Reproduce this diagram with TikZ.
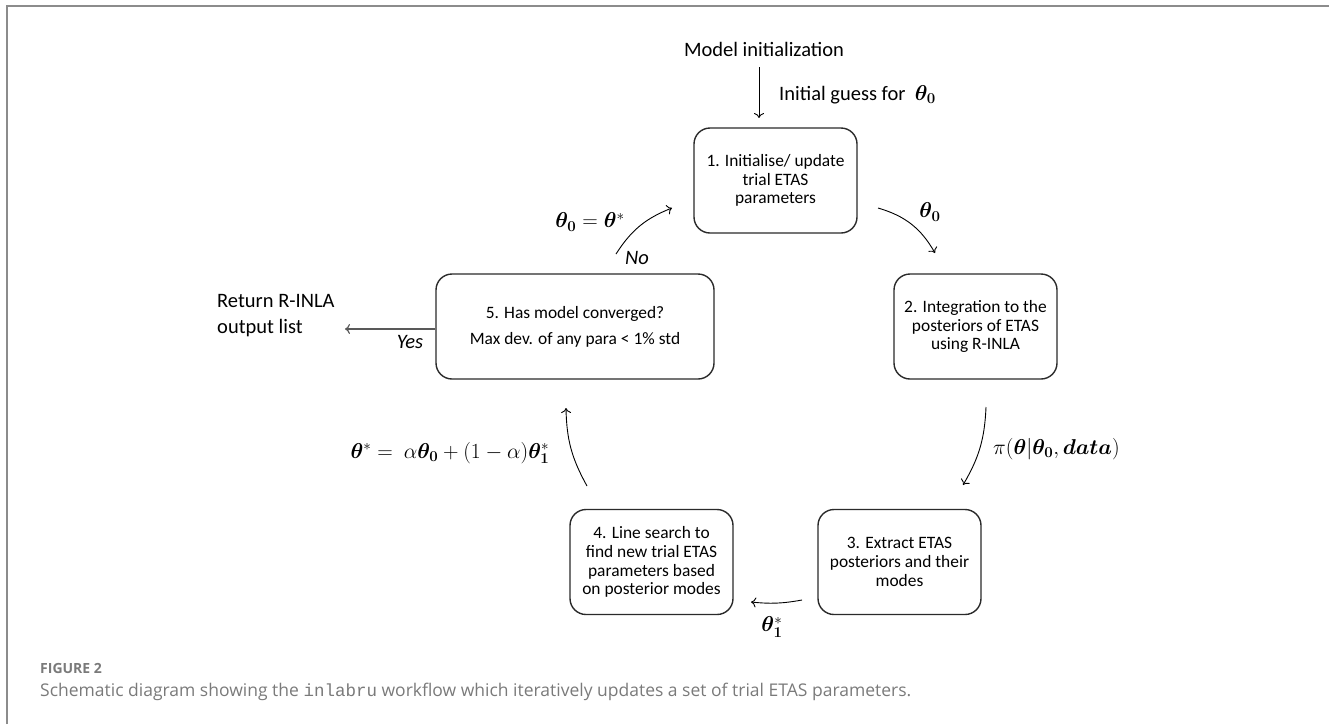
\documentclass[tikz,border=0pt]{standalone}
\usepackage{fix-cm}
\usepackage{amsmath}
\usepackage{bm}
\usepackage{fontspec}
\setmainfont{Carlito}
\newfontfamily\capfont{Open Sans}
\newfontfamily\capmono{Liberation Mono}
\usetikzlibrary{arrows.meta}
\definecolor{framegray}{HTML}{8C8C8C}
\definecolor{capgray}{HTML}{7A7A7A}
\definecolor{boxline}{HTML}{2A2A2A}
\begin{document}
\begin{tikzpicture}[x=1pt,y=-1pt,
  stepbox/.style={draw=boxline, line width=1.4pt, rounded corners=16pt, align=center,
    font=\fontsize{17.4}{18.8}\selectfont, inner sep=0pt, minimum width=163pt, minimum height=105pt},
  flow/.style={-{To[length=5pt,width=10pt]}, line width=0.9pt},
  lbl/.style={font=\fontsize{20.5}{26}\selectfont, inner sep=0pt},
  mlbl/.style={font=\fontsize{21.5}{26}\selectfont, inner sep=0pt}]
\useasboundingbox (0,0) rectangle (1329,724);
\draw[framegray, line width=2pt] (7,724) -- (7,6) -- (1329,6);

% boxes
\node[stepbox] (b1) at (775.5,180.5) {1. Initialise/ update\\trial ETAS\\parameters};
\node[stepbox] (b2) at (975.5,326.5) {2. Integration to the\\posteriors of ETAS\\using R-INLA};
\node[stepbox] (b3) at (899.5,562) {3. Extract ETAS\\posteriors and their\\modes};
\node[stepbox] (b4) at (651.5,562) {4. Line search to\\find new trial ETAS\\parameters based\\on posterior modes};
\node[stepbox, minimum width=278pt] (b5) at (575,326.5) {5. Has model converged?\\[7pt]Max dev. of any para {<} 1\% std};

% texts
\node[lbl] (init) at (764,49) {Model initialization};
\node[lbl, anchor=west] (guess) at (779,95) {Initial guess for\ \ {\fontsize{21.5}{26}\selectfont$\bm{\theta}_{\bm{0}}$}};
\node[lbl, anchor=west, align=left] (ret) at (217,316) {Return R-INLA\\output list};
\node[lbl, font=\itshape\fontsize{20.5}{26}\selectfont] (yes) at (410,342) {Yes};
\node[lbl, font=\itshape\fontsize{20.5}{26}\selectfont] (no) at (637,258) {No};
\node[mlbl] (l12) at (930,212) {$\bm{\theta}_{\bm{0}}$};
\node[mlbl, anchor=west] (l23) at (993,449) {$\pi(\bm{\theta}|\bm{\theta}_{\bm{0}},\bm{data})$};
\node[mlbl] (l34) at (772,627) {$\bm{\theta}_{\bm{1}}^{*}$};
\node[mlbl] (l45) at (450,453) {$\bm{\theta}^{*}=\ \alpha\bm{\theta}_{\bm{0}}+(1-\alpha)\bm{\theta}_{\bm{1}}^{*}$};
\node[mlbl] (l51) at (590,222) {$\bm{\theta}_{\bm{0}}=\bm{\theta}^{*}$};

% connector end points
\coordinate (i1) at (759,67);
\coordinate (i2) at (759,118);
\coordinate (a1s) at (878,208);
\coordinate (a1e) at (935,253);
\coordinate (a2s) at (986,407);
\coordinate (a2e) at (963,485);
\coordinate (a3s) at (802,600);
\coordinate (a3e) at (751,602);
\coordinate (a4s) at (587,486);
\coordinate (a4e) at (566,408);
\coordinate (a5s) at (616,254);
\coordinate (a5e) at (672,208);
\coordinate (ye) at (345,329);

% connectors
\draw[flow] (i1) -- (i2);
\draw[flow] (a1s) to[bend left=22] (a1e);
\draw[flow] (a2s) to[bend left=14] (a2e);
\draw[flow] (a3s) to[bend left=8] (a3e);
\draw[flow] (a4s) to[bend left=14] (a4e);
\draw[flow] (a5s) to[bend left=18] (a5e);
\draw[flow, draw=black!65, line width=1.2pt] ([yshift=-2.5pt]b5.west) -- (ye);

% caption
\node[anchor=west, inner sep=0pt, text=capgray, font=\capfont\bfseries\fontsize{14}{16}\selectfont] (fig) at (40,668) {FIGURE 2};
\node[anchor=west, inner sep=0pt, text=capgray, font=\capfont\fontsize{17.5}{20}\selectfont] (cap) at (40,692) {Schematic diagram showing the {\capmono inlabru} workflow which iteratively updates a set of trial ETAS parameters.};
\end{tikzpicture}
\end{document}
